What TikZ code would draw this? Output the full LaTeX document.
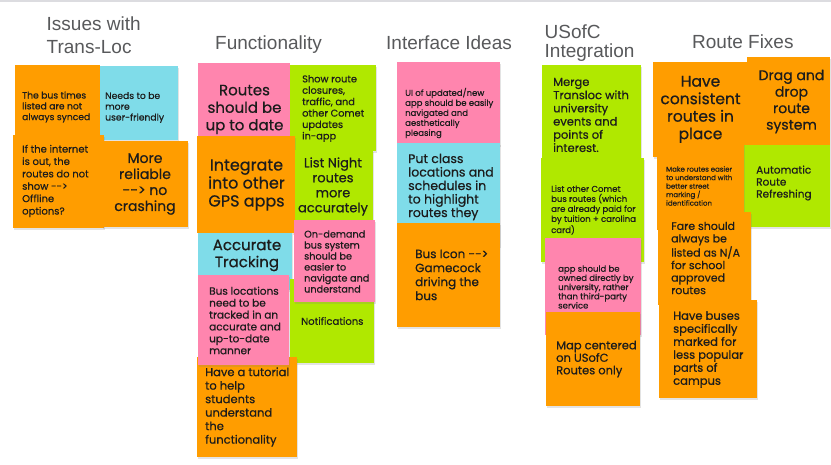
\documentclass[tikz,border=0pt]{standalone}
\usepackage{fontspec}
\usetikzlibrary{shadows}
\newfontfamily\sticky{Poppins}[FakeBold=0.6]
\newfontfamily\hdr{Liberation Sans}
\definecolor{nOrange}{HTML}{FF9D00}
\definecolor{nPink}{HTML}{FF85AE}
\definecolor{nCyan}{HTML}{7FDCE9}
\definecolor{nGreen}{HTML}{B0E800}
\definecolor{hGray}{HTML}{58595B}
\definecolor{tDark}{HTML}{1C1C1C}
\definecolor{topLine}{HTML}{DCDCE0}
\newcommand\fsz[2]{\fontsize{#1}{#2}\selectfont}
\newcommand\stickynote[6]{%
  \pgfmathsetmacro\stkw{#5-#3}\pgfmathsetmacro\stkh{#6-#4}%
  \node[note, fill=#2, minimum width=\stkw pt, minimum height=\stkh pt, anchor=north west] (#1) at (#3,#4) {};}
\tikzset{
  note/.style={inner sep=0pt, outer sep=0pt, draw=none,
    drop shadow={shadow xshift=0.6pt, shadow yshift=-1.6pt, opacity=0.22}},
  ltxt/.style={inner sep=0pt, anchor=west, align=left, text=tDark},
  ctxt/.style={inner sep=0pt, anchor=center, align=center, text=tDark},
  head/.style={inner sep=0pt, text=hGray, align=left, font={\hdr\fsz{19}{23}}},
}
\begin{document}
\begin{tikzpicture}[x=1pt,y=-1pt]
\useasboundingbox (0,0) rectangle (831,464);
\fill[white] (0,0) rectangle (831,464);
\coordinate (tl) at (0,0.8);
\coordinate (tr) at (831,0.8);
\draw[topLine, line width=1.6pt] (tl) -- (tr);

% ---------- headers
\node[head, anchor=north west, font={\hdr\fsz{19}{23.3}}] (h1) at (46.5,16.2) {Issues with\\Trans-Loc};
\node[head, anchor=base west] (h2) at (215,49) {Functionality};
\node[head, anchor=base west] (h3) at (386,49) {Interface Ideas};
\node[head, anchor=north west, font={\hdr\fsz{19}{19.5}}] (h4) at (544.5,24.5) {USofC\\Integration};
\node[head, anchor=base west] (h5) at (692,48) {Route Fixes};

% ---------- Issues with Trans-Loc
\stickynote{s1}{nOrange}{15}{65}{100}{135}
\node[ltxt, font={\sticky\fsz{9.2}{10.8}}] (t1) at (22,107) {The bus times\\listed are not\\always synced};
\stickynote{s2}{nCyan}{100}{66}{178}{140}
\node[ltxt, font={\sticky\fsz{9.2}{10.8}}] (t2) at (105,107.5) {Needs to be\\more\\user-friendly};
\stickynote{s3}{nOrange}{13}{135}{104}{228}
\node[ltxt, font={\sticky\fsz{10}{12.4}}] (t3) at (22,181) {If the internet\\is out, the\\routes do not\\show -{}->\\Offline\\options?};
\stickynote{s4}{nOrange}{102}{141}{188}{227}
\node[ctxt, font={\sticky\fsz{14}{16}}] (t4) at (145,184) {More\\reliable\\-{}-> no\\crashing};

% ---------- Functionality
\stickynote{s5}{nPink}{198}{63}{290}{140}
\node[ctxt, font={\sticky\fsz{15}{17.5}}] (t5) at (244.5,109.5) {Routes\\should be\\up to date};
\stickynote{s6}{nGreen}{290}{65}{376}{151}
\node[ltxt, font={\sticky\fsz{9.8}{11.4}}] (t6) at (302,108.5) {Show route\\closures,\\traffic, and\\other Comet\\updates\\in-app};
\stickynote{s7}{nOrange}{197}{136}{295}{233}
\node[ctxt, font={\sticky\fsz{16}{18}}] (t7) at (246.5,185) {Integrate\\into other\\GPS apps};
\stickynote{s8}{nGreen}{295}{150}{373}{222}
\node[ctxt, font={\sticky\fsz{13}{15}}] (t8) at (333,186.5) {List Night\\routes\\more\\accurately};
\stickynote{s9}{nCyan}{198}{233}{292}{290}
\node[ctxt, font={\sticky\fsz{15}{17}}] (t9) at (247,255.5) {Accurate\\Tracking};
\stickynote{s10}{nGreen}{290}{279}{374}{363}
\node[ltxt, font={\sticky\fsz{10}{11}}] (t10) at (301,321) {Notifications};
\stickynote{s11}{nPink}{294}{220}{375}{302}
\node[ltxt, font={\sticky\fsz{9.7}{11}}] (t11) at (304,261.5) {On-demand\\bus system\\should be\\easier to\\navigate and\\understand};
\stickynote{s13}{nOrange}{197}{357}{297}{457}
\node[ltxt, font={\sticky\fsz{11.5}{13.5}}] (t13) at (205,407) {Have a tutorial\\to help\\students\\understand\\the\\functionality};
\stickynote{s12}{nPink}{198}{275}{289}{365}
\node[ltxt, font={\sticky\fsz{10.5}{11.9}}] (t12) at (209,320.5) {Bus locations\\need to be\\tracked in an\\accurate and\\up-to-date\\manner};

% ---------- Interface Ideas
\stickynote{s14}{nPink}{397}{62}{500}{145}
\node[ltxt, font={\sticky\fsz{8.5}{10}}] (t14) at (405,113) {UI of updated/new\\app should be easily\\navigated and\\aesthetically\\pleasing};
\stickynote{s15}{nCyan}{397}{143}{500}{246}
\node[ltxt, font={\sticky\fsz{12.5}{13.5}}] (t15) at (408,187) {Put class\\locations and\\schedules in\\to highlight\\routes they};
\stickynote{s16}{nOrange}{397}{223}{500}{327}
\node[ltxt, font={\sticky\fsz{12}{14}}] (t16) at (415,275) {Bus Icon -{}->\\Gamecock\\driving the\\bus};

% ---------- USofC Integration
\stickynote{s17}{nGreen}{542}{65}{641}{160}
\node[ltxt, font={\sticky\fsz{11.5}{13.2}}] (t17) at (553,115) {Merge\\Transloc with\\university\\events and\\points of\\interest.};
\stickynote{s18}{nGreen}{541}{158}{644}{262}
\node[ltxt, font={\sticky\fsz{8.5}{10}}] (t18) at (551,210) {List other Comet\\bus routes (which\\are already paid for\\by tuition + carolina\\card)};
\stickynote{s19}{nPink}{545}{238}{641}{335}
\node[ltxt, font={\sticky\fsz{8.5}{9.2}}] (t19) at (558,287) {app should be\\owned directly by\\university, rather\\than third-party\\service};
\stickynote{s20}{nOrange}{546}{312}{640}{406}
\node[ltxt, font={\sticky\fsz{11.5}{12.5}}] (t20) at (556,359) {Map centered\\on USofC\\Routes only};

% ---------- Route Fixes
\stickynote{s21}{nOrange}{653}{62}{747}{157}
\node[ctxt, font={\sticky\fsz{15.5}{17.5}}] (t21) at (700.5,109.5) {Have\\consistent\\routes in\\place};
\stickynote{s22}{nOrange}{747}{57}{830}{145}
\node[ctxt, font={\sticky\fsz{14}{16.5}}] (t22) at (791.5,101.5) {Drag and\\drop\\route\\system};
\stickynote{s23}{nGreen}{744}{145}{830}{227}
\node[ltxt, font={\sticky\fsz{10.5}{12}}] (t23) at (756,183) {Automatic\\Route\\Refreshing};
\stickynote{s24}{nOrange}{657}{143}{744}{230}
\node[ltxt, font={\sticky\fsz{7}{8.5}}] (t24) at (666,186) {Make routes easier\\to understand with\\better street\\marking /\\identification};
\stickynote{s25}{nOrange}{658}{212}{751}{305}
\node[ltxt, font={\sticky\fsz{11}{12.5}}] (t25) at (671,258) {Fare should\\always be\\listed as N/A\\for school\\approved\\routes};
\stickynote{s26}{nOrange}{659}{300}{757}{398}
\node[ltxt, font={\sticky\fsz{11.5}{13}}] (t26) at (673,349.5) {Have buses\\specifically\\marked for\\less popular\\parts of\\campus};
\end{tikzpicture}
\end{document}
